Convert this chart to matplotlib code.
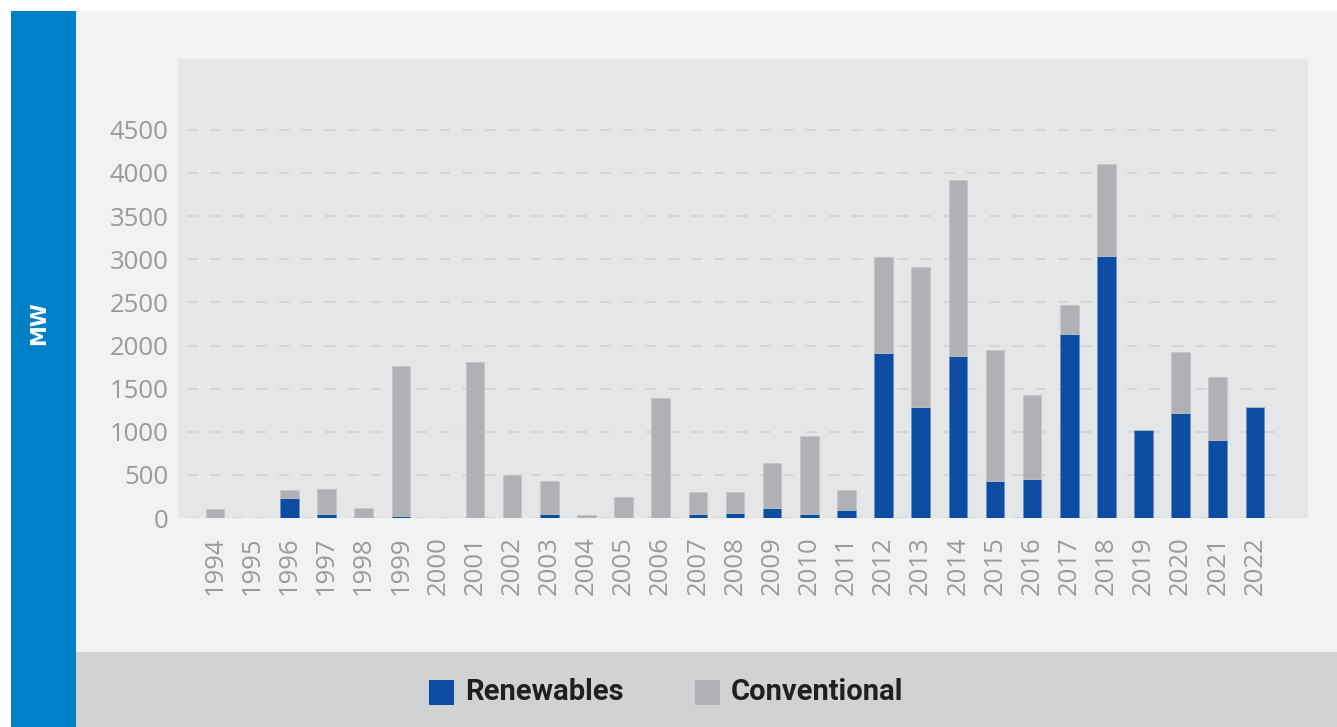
import numpy as np
import matplotlib
matplotlib.use("Agg")
from matplotlib import pyplot as plt
from matplotlib.patches import Rectangle

years = list(range(1994, 2023))
renewables = [0, 0, 230, 45, 10, 25, 0, 0, 0, 45, 0, 0, 0, 50, 60, 115, 45, 90,
              1910, 1290, 1875, 430, 455, 2135, 3040, 1025, 1215, 905, 1290]
totals = [100, 0, 330, 340, 120, 1760, 0, 1810, 500, 430, 35, 240, 1390, 300, 300,
          640, 950, 330, 3030, 2910, 3920, 1950, 1425, 2465, 4100, 1025, 1920, 1640, 1290]
conventional = [t - r for t, r in zip(totals, renewables)]
yticks = list(range(0, 5000, 500))

W, H = 1337, 727
BLUE = '#0c4da2'
GREY = '#b0b1b4'
TICK = '#9a9a9a'

fig = plt.figure(figsize=(W / 100, H / 100), dpi=100)
fig.patch.set_facecolor('white')


def box(x, y, w, h, color, z=-1):
    # pixel box (top-left origin) -> figure fraction
    fig.patches.append(Rectangle((x / W, 1 - (y + h) / H), w / W, h / H,
                                 transform=fig.transFigure, facecolor=color,
                                 edgecolor='none', zorder=z))


box(76, 11, W - 76, 641, '#f1f2f4')
box(76, 652, W - 76, 75, '#d1d2d4')
box(11, 11, 65, 716, '#0080c6')

fig.text(39 / W, 1 - 323 / H, 'MW', rotation=90, color='white', fontsize=15,
         fontweight='bold', family='DejaVu Sans', ha='center', va='center')

ax = fig.add_axes([178 / W, 1 - 518 / H, 1130 / W, 459 / H])
ax.set_zorder(2)
ax.set_facecolor('#e5e6e8')
x = np.arange(len(years))
ax.hlines(yticks, -0.75, 28.65, colors='#d0d1d3', linewidth=1.1,
          linestyles=(0, (7.2, 7.8)), zorder=1)
ax.bar(x, renewables, width=0.5, color=BLUE, edgecolor='#6f8fc4', linewidth=0.5, zorder=2)
ax.bar(x, conventional, width=0.5, bottom=renewables, color=GREY, edgecolor='#c4c5c8',
       linewidth=0.5, zorder=2)

ax.set_xlim(-1.0, 29.43)
ax.set_ylim(0, 459 / 0.08625)
for s in ax.spines.values():
    s.set_visible(False)
ax.set_yticks(yticks)
ax.set_yticklabels([str(v) for v in yticks], family='Open Sans', fontsize=18.5, color=TICK)
ax.set_xticks(x)
ax.set_xticklabels([str(y) for y in years], rotation=90, family='Open Sans',
                   fontsize=18.5, color=TICK)
ax.tick_params(axis='y', length=0, pad=7)
ax.tick_params(axis='x', length=0, pad=13)

# legend in the bottom band
box(429, 680, 25, 25, BLUE, z=1)
box(695, 680, 25, 25, GREY, z=1)
fig.text(465 / W, 1 - 692 / H, 'Renewables', family='Roboto', fontweight='bold',
         fontsize=21, color='#231f20', va='center', ha='left')
fig.text(731 / W, 1 - 692 / H, 'Conventional', family='Roboto', fontweight='bold',
         fontsize=21, color='#231f20', va='center', ha='left')

fig.savefig('out.png', dpi=100)
